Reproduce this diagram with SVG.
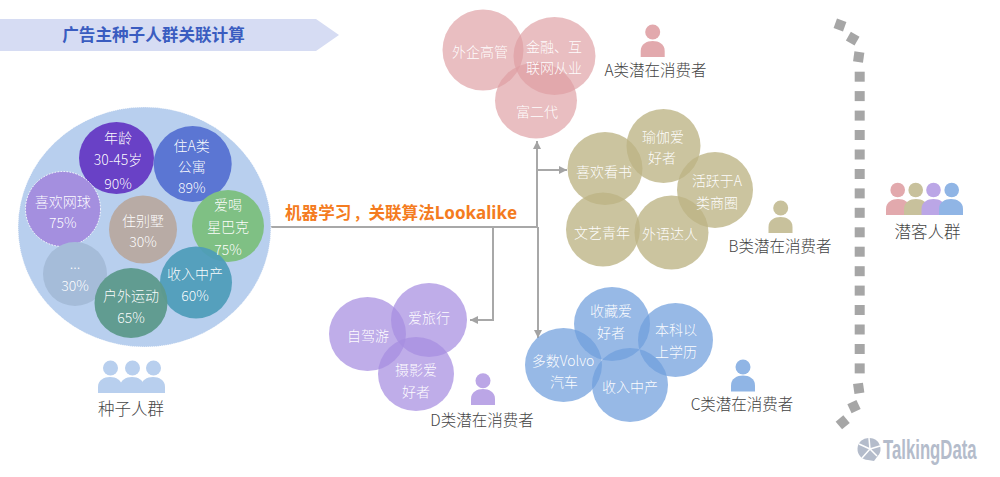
<svg xmlns="http://www.w3.org/2000/svg" width="1000" height="477" viewBox="0 0 1000 477">
<style>
text{font-family:"Noto Sans CJK SC","Noto Sans",sans-serif}
.t{font-size:14px;font-weight:300;fill:#fff;fill-opacity:.97;text-anchor:middle}
.l{font-size:15.5px;font-weight:300;fill:#444;text-anchor:middle}
.h{font-size:16.5px;font-weight:300;fill:#444;text-anchor:middle}
.p{fill:#dd9da1;fill-opacity:.66}
.n{fill:#bdb484;fill-opacity:.78}
.u{fill:#a68de0;fill-opacity:.72}
.b{fill:#6f9edd;fill-opacity:.72}
.line{fill:none;stroke:#a8a8a8;stroke-width:2}
.sq{fill:#a6a6a6}
</style>
<defs>
<marker id="arr" markerUnits="userSpaceOnUse" markerWidth="10" markerHeight="10" refX="8" refY="4" orient="auto"><path d="M0 0L8 4L0 8Z" fill="#a3a3a3"/></marker>
<path id="person" d="M-12 8V2C-12-5-6-8 0-8S12-5 12 2V8Z"/>
<rect id="sq" class="sq" x="-5" y="-5" width="10" height="10"/>
</defs>
<rect width="1000" height="477" fill="#fff"/>
<g id="title"><path d="M0 19H316L339 35L316 51H0Z" fill="#d6dcf3"/><text x="153.500" y="41" font-size="16.600" font-weight="700" fill="#3a5cc0" text-anchor="middle">广告主种子人群关联计算</text></g>
<g id="connectors">
<path class="line" d="M271 227H538"/>
<path class="line" marker-end="url(#arr)" d="M537 227V141"/>
<path class="line" marker-end="url(#arr)" d="M537 170H567"/>
<path class="line" marker-end="url(#arr)" d="M538 227V338"/>
<path class="line" marker-end="url(#arr)" d="M493 227V320H470"/>
</g>
<text x="285" y="219" font-size="16.600" font-weight="700" fill="#f47b20">机器学习<tspan dx="2" font-size="15">，</tspan>关联算法<tspan font-size="17" style="font-family:'Noto Sans',sans-serif">Lookalike</tspan></text>
<g id="seed">
<ellipse cx="144.500" cy="227" rx="126.500" ry="120" fill="#b8cfee" stroke="#fff" stroke-width="1" stroke-dasharray="1 1"/>
<g id="seed-age"><ellipse cx="116.500" cy="158" rx="37.500" ry="36" fill="#6941c6"/><text class="t" x="118" y="143">年龄</text><text class="t" x="118" y="165">30-45岁</text><text class="t" x="118" y="189">90%</text></g>
<g id="seed-apt"><ellipse cx="192.700" cy="164" rx="39" ry="38" fill="#5b76d3"/><text class="t" x="191.700" y="151">住A类</text><text class="t" x="191.700" y="172">公寓</text><text class="t" x="191.700" y="193">89%</text></g>
<g id="seed-tennis"><circle cx="63" cy="209" r="37.500" fill="#a48fdf" stroke="#fff" stroke-width="1" stroke-dasharray="1.500 1.500"/><text class="t" x="62.700" y="207">喜欢网球</text><text class="t" x="62.700" y="228">75%</text></g>
<g id="seed-villa"><circle cx="143" cy="229.500" r="34" fill="#b8aba5"/><text class="t" x="143" y="226">住别墅</text><text class="t" x="143" y="247">30%</text></g>
<g id="seed-dots"><circle cx="75" cy="274" r="32" fill="#a5bcd9"/><text class="t" x="75" y="269">...</text><text class="t" x="75" y="291">30%</text></g>
<g id="seed-star"><circle cx="228" cy="226" r="36" fill="#7fc084"/><text class="t" x="228" y="210">爱喝</text><text class="t" x="228" y="232">星巴克</text></g>
<g id="seed-income"><circle cx="196" cy="282.500" r="36" fill="#4d9cb9" fill-opacity=".93"/><text class="t" x="195" y="279">收入中产</text><text class="t" x="195" y="301">60%</text></g>
<text class="t" x="228" y="255">75%</text>
<g id="seed-outdoor"><ellipse cx="131" cy="303" rx="36.500" ry="35" fill="#5e9a8d" fill-opacity=".96"/><text class="t" x="131" y="301">户外运动</text><text class="t" x="131" y="323">65%</text></g>
</g>
<g id="seed-icon" fill="#b8cfee"><circle cx="110.500" cy="368" r="7.500"/><circle cx="132.500" cy="368" r="7.500"/><circle cx="153.500" cy="368" r="7.500"/><use href="#person" x="110" y="385"/><use href="#person" x="132" y="385"/><use href="#person" x="153" y="385"/><text class="h" x="131" y="415">种子人群</text></g>
<g id="group-a"><ellipse class="p" cx="483" cy="50" rx="40.500" ry="40.500"/><ellipse class="p" cx="554.500" cy="56" rx="41" ry="39"/><ellipse class="p" cx="536" cy="100.500" rx="41" ry="38"/><text class="t" x="480" y="57">外企高管</text><text class="t" x="554" y="52">金融、互</text><text class="t" x="554" y="73">联网从业</text><text class="t" x="537" y="117">富二代</text></g>
<g id="icon-a" fill="#e2a9ad"><circle cx="652.700" cy="32" r="7.500"/><use href="#person" x="652.700" y="49"/><text class="l" x="655.500" y="76">A类潜在消费者</text></g>
<g id="group-b"><ellipse class="n" cx="605" cy="168.500" rx="37.500" ry="36.500"/><circle class="n" cx="663.500" cy="146" r="37"/><circle class="n" cx="715" cy="190" r="38"/><circle class="n" cx="603" cy="229.500" r="37"/><circle class="n" cx="671.500" cy="232.500" r="37"/><text class="t" x="604" y="177">喜欢看书</text><text class="t" x="663" y="142">瑜伽爱</text><text class="t" x="662" y="163">好者</text><text class="t" x="717" y="186">活跃于A</text><text class="t" x="717" y="208">类商圈</text><text class="t" x="602" y="238">文艺青年</text><text class="t" x="670" y="239">外语达人</text></g>
<g id="icon-b" fill="#c8c19c"><circle cx="780.700" cy="208" r="7.500"/><use href="#person" x="780.500" y="225"/><text class="l" x="780" y="252">B类潜在消费者</text></g>
<g id="group-d"><ellipse class="u" cx="367.500" cy="334" rx="38.500" ry="37"/><ellipse class="u" cx="429" cy="320" rx="38" ry="37"/><ellipse class="u" cx="416" cy="374" rx="38" ry="37"/><text class="t" x="368" y="341">自驾游</text><text class="t" x="429" y="323">爱旅行</text><text class="t" x="416" y="375">摄影爱</text><text class="t" x="416" y="397">好者</text></g>
<g id="icon-d" fill="#bba6e6"><circle cx="483" cy="380.700" r="7.500"/><use href="#person" x="483" y="397"/><text class="l" x="482" y="426">D类潜在消费者</text></g>
<g id="group-c"><ellipse class="b" cx="563.500" cy="365" rx="38.500" ry="37"/><ellipse class="b" cx="612" cy="324" rx="38" ry="37"/><ellipse class="b" cx="675.500" cy="340" rx="37.500" ry="37"/><ellipse class="b" cx="630" cy="385" rx="38" ry="37"/><text class="t" x="563" y="366">多数Volvo</text><text class="t" x="564" y="387">汽车</text><text class="t" x="611" y="316">收藏爱</text><text class="t" x="611" y="338">好者</text><text class="t" x="676" y="335">本科以</text><text class="t" x="676" y="357">上学历</text><text class="t" x="630" y="392">收入中产</text></g>
<g id="icon-c" fill="#90b5e5"><circle cx="743" cy="367" r="7.500"/><use href="#person" x="743" y="383.500"/><text class="l" x="742" y="410">C类潜在消费者</text></g>
<g id="bracket">
<use href="#sq" transform="translate(840 25) rotate(20)"/><use href="#sq" transform="translate(852.700 38.700) rotate(30)"/><use href="#sq" transform="translate(858.700 57) rotate(8)"/>
<use href="#sq" x="859.700" y="76.700"/><use href="#sq" x="859.700" y="96.100"/><use href="#sq" x="859.700" y="115.600"/><use href="#sq" x="859.700" y="135"/><use href="#sq" x="859.700" y="154.500"/><use href="#sq" x="859.700" y="174"/><use href="#sq" x="859.700" y="193.400"/><use href="#sq" x="859.700" y="212.800"/><use href="#sq" x="859.700" y="232.300"/><use href="#sq" x="859.700" y="251.700"/><use href="#sq" x="859.700" y="271.200"/><use href="#sq" x="859.700" y="290.600"/><use href="#sq" x="859.700" y="310"/><use href="#sq" x="859.700" y="329.500"/><use href="#sq" x="859.700" y="349"/><use href="#sq" x="859.700" y="368.400"/>
<use href="#sq" transform="translate(858.700 388.300) rotate(-8)"/><use href="#sq" transform="translate(854 406.700) rotate(-25)"/><use href="#sq" transform="translate(842.700 422.300) rotate(-40)"/>
</g>
<g id="prospects"><circle cx="897.700" cy="190" r="7.300" fill="#e2a9ad"/><circle cx="915.700" cy="190" r="7.300" fill="#c8c19c"/><circle cx="933.500" cy="190" r="7.300" fill="#bba6e6"/><circle cx="951.700" cy="190" r="7.300" fill="#90b5e5"/><use href="#person" x="898" y="207" fill="#e2a9ad"/><use href="#person" x="916" y="207" fill="#c8c19c"/><use href="#person" x="933.500" y="207" fill="#bba6e6"/><use href="#person" x="951" y="207" fill="#90b5e5"/><text class="h" x="927.500" y="238">潜客人群</text></g>
<g id="watermark"><path d="M869 438A11 11 0 0 1 877 457L874 461L868 460A11 11 0 0 1 869 438Z" fill="#b4bccb"/><path d="M869 438L870 449L880 446M870 449L859 444M870 449L862 458M870 449L877 456" stroke="#fff" stroke-width="1.500" fill="none"/><text transform="translate(883 459) scale(.62 1)" font-size="27" font-weight="700" fill="#b4bccb" style="font-family:'Liberation Sans',sans-serif">TalkingData</text></g>
</svg>
